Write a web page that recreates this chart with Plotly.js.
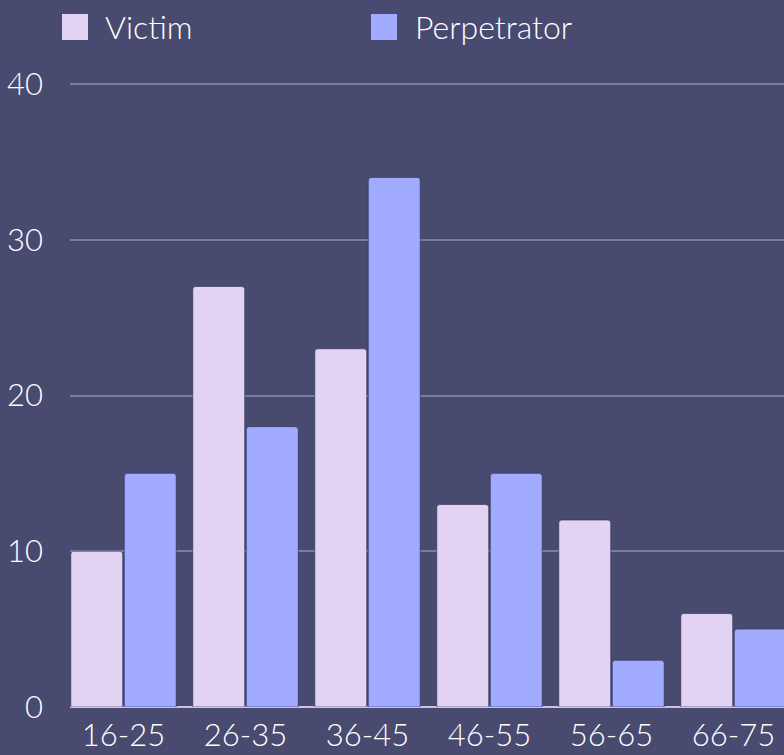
<!DOCTYPE html>
<html>
<head>
<meta charset="utf-8">
<script src="https://cdn.plot.ly/plotly-3.0.1.min.js"></script>
<style>
html,body{margin:0;padding:0;background:#484a70;}
#chart{width:784px;height:755px;}
</style>
</head>
<body>
<div id="chart"></div>
<script>
const categories = ["16-25", "26-35", "36-45", "46-55", "56-65", "66-75"];
const victim = [10, 27, 23, 13, 12, 6];
const perpetrator = [15, 18, 34, 15, 3, 5];
const seriesNames = ["Victim", "Perpetrator"];
const yTicks = [0, 10, 20, 30, 40];

const bg = "#484a70";
const cVictim = "#e1d3f1";
const cPerp = "#a0aaff";
const fontFam = "Lato, 'Open Sans', sans-serif";

const traces = [
  {type: "bar", name: seriesNames[0], x: categories, y: victim,
   marker: {color: cVictim, cornerradius: 3, line: {color: "rgba(40,40,80,0.55)", width: 1}},
   hoverinfo: "skip", showlegend: false},
  {type: "bar", name: seriesNames[1], x: categories, y: perpetrator,
   marker: {color: cPerp, cornerradius: 3, line: {color: "rgba(40,40,80,0.55)", width: 1}},
   hoverinfo: "skip", showlegend: false}
];

const layout = {
  width: 784, height: 755,
  paper_bgcolor: bg, plot_bgcolor: bg,
  margin: {l: 70, r: 0, t: 82, b: 48, pad: 0},
  barmode: "group", bargap: 0.123, bargroupgap: 0.03,
  font: {family: fontFam, color: "#ffffff", size: 30, weight: 300},
  xaxis: {
    type: "category", range: [-0.4385, 5.414],
    showgrid: false, zeroline: false, showline: false, ticks: "",
    tickfont: {family: fontFam, size: 31, color: "#ffffff", weight: 300},
    ticklabelstandoff: 7, fixedrange: true
  },
  yaxis: {
    range: [0, 40.128], tickvals: yTicks, ticktext: yTicks.map(String),
    showgrid: true, gridcolor: "#7b7c9e", gridwidth: 2,
    zeroline: true, zerolinecolor: "#cbc3e0", zerolinewidth: 2,
    showline: false, ticks: "",
    tickfont: {family: fontFam, size: 31, color: "#ffffff", weight: 300},
    ticklabelstandoff: 26, fixedrange: true
  },
  shapes: [
    {type: "rect", xref: "paper", yref: "paper", x0: -0.0112, x1: 0.0252, y0: 1.0672, y1: 1.1088,
     fillcolor: cVictim, line: {width: 0}},
    {type: "rect", xref: "paper", yref: "paper", x0: 0.4216, x1: 0.4580, y0: 1.0672, y1: 1.1088,
     fillcolor: cPerp, line: {width: 0}}
  ],
  annotations: [
    {xref: "paper", yref: "paper", x: 0.0456, y: 1.0880, xanchor: "left", yanchor: "middle",
     text: seriesNames[0], showarrow: false, font: {family: fontFam, size: 32, color: "#ffffff", weight: 300}},
    {xref: "paper", yref: "paper", x: 0.4798, y: 1.0880, xanchor: "left", yanchor: "middle",
     text: seriesNames[1], showarrow: false, font: {family: fontFam, size: 32, color: "#ffffff", weight: 300}}
  ]
};

Plotly.newPlot("chart", traces, layout, {staticPlot: true, displayModeBar: false});
</script>
</body>
</html>
